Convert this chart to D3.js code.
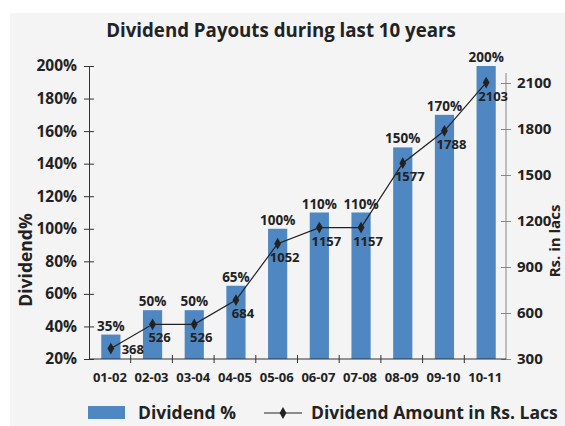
<!DOCTYPE html>
<html>
<head>
<meta charset="utf-8">
<script src="https://cdn.jsdelivr.net/npm/d3@7"></script>
<style>
  body { margin: 0; background: #fff; }
  text { font-family: "Open Sans", sans-serif; font-weight: bold; fill: #222; }
</style>
</head>
<body>
<div id="chart"></div>
<script>
// chart data
const years = ['01-02', '02-03', '03-04', '04-05', '05-06', '06-07', '07-08', '08-09', '09-10', '10-11'];
const dividendPct = [35, 50, 50, 65, 100, 110, 110, 150, 170, 200];
const dividendAmt = [368, 526, 526, 684, 1052, 1157, 1157, 1577, 1788, 2103];
const pctTicks = [20, 40, 60, 80, 100, 120, 140, 160, 180, 200];
const amtTicks = [300, 600, 900, 1200, 1500, 1800, 2100];

const w = 565, h = 426;
const svg = d3.select('#chart').append('svg')
  .attr('width', w)
  .attr('height', h);

// gray panel
svg.append('rect')
  .attr('x', 10).attr('y', 13)
  .attr('width', w - 10).attr('height', h - 13)
  .attr('fill', '#f4f4f4');

const left = 89, right = 506, bottom = 359;

const x = d3.scaleBand().domain(years).range([left, right]).padding(0);
const yL = d3.scaleLinear().domain([20, 200]).range([bottom, 66]);
const yR = d3.scaleLinear().domain([300, 2100]).range([bottom, 83]);

// title
svg.append('text')
  .attr('x', 281).attr('y', 37)
  .attr('text-anchor', 'middle')
  .style('font-size', '18.7px')
  .text('Dividend Payouts during last 10 years');

// bars
const barW = x.bandwidth() * 0.46;
const cx = i => x(years[i]) + x.bandwidth() / 2 + 1;
svg.selectAll('.bar')
  .data(dividendPct)
  .enter()
  .append('rect')
  .attr('class', 'bar')
  .attr('x', (d, i) => cx(i) - barW / 2)
  .attr('y', d => yL(d))
  .attr('width', barW)
  .attr('height', d => bottom - yL(d))
  .attr('fill', '#4f87c3');

svg.selectAll('.bar-label')
  .data(dividendPct)
  .enter()
  .append('text')
  .attr('class', 'bar-label')
  .attr('x', (d, i) => cx(i))
  .attr('y', d => yL(d) - 4)
  .attr('text-anchor', 'middle')
  .style('font-size', '13.5px')
  .text(d => d + '%');

// left axis
const axL = svg.append('g')
  .attr('transform', `translate(${left},0)`)
  .call(d3.axisLeft(yL).tickValues(pctTicks).tickFormat(d => d + '%').tickSize(5).tickPadding(7));
axL.select('.domain').attr('stroke', '#333');
axL.selectAll('.tick line').attr('x1', 5).attr('stroke', '#333');
axL.selectAll('text').style('font-size', '15.5px').attr('fill', '#222');

// right axis
const axR = svg.append('g')
  .attr('transform', `translate(${right},0)`)
  .call(d3.axisRight(yR).tickValues(amtTicks).tickFormat(d3.format('d')).tickSize(5).tickPadding(6));
axR.select('.domain').attr('d', `M0,73V${bottom}`).attr('stroke', '#888');
axR.selectAll('.tick line').attr('x1', -5).attr('stroke', '#888');
axR.selectAll('text').style('font-size', '15px').attr('fill', '#222');

// x axis
const axX = svg.append('g')
  .attr('transform', `translate(0,${bottom})`)
  .call(d3.axisBottom(x).tickSize(0).tickPadding(14));
axX.select('.domain').attr('d', `M${left},0H${right}`).attr('stroke', '#333');
axX.selectAll('text').style('font-size', '13px').attr('fill', '#222');
axX.selectAll('.sep')
  .data(years.slice(1))
  .enter()
  .append('line')
  .attr('class', 'sep')
  .attr('x1', d => x(d)).attr('x2', d => x(d))
  .attr('y1', -4).attr('y2', 4)
  .attr('stroke', '#333');

// axis titles
svg.append('text')
  .attr('transform', 'translate(32,260) rotate(-90)')
  .attr('text-anchor', 'middle')
  .style('font-size', '17.5px')
  .text('Dividend%');

svg.append('text')
  .attr('transform', 'translate(560,241) rotate(-90)')
  .attr('text-anchor', 'middle')
  .style('font-size', '15px')
  .text('Rs. in lacs');

// amount line
const line = d3.line()
  .x((d, i) => cx(i))
  .y(d => yR(d));

svg.append('path')
  .datum(dividendAmt)
  .attr('d', line)
  .attr('fill', 'none')
  .attr('stroke', '#222')
  .attr('stroke-width', 1.2);

const diamond = d3.symbol().type(d3.symbolDiamond).size(40);
svg.selectAll('.pt')
  .data(dividendAmt)
  .enter()
  .append('path')
  .attr('class', 'pt')
  .attr('d', diamond)
  .attr('transform', (d, i) => `translate(${cx(i)},${yR(d)})`)
  .attr('fill', '#222');

svg.selectAll('.amt-label')
  .data(dividendAmt)
  .enter()
  .append('text')
  .attr('class', 'amt-label')
  .attr('x', (d, i) => cx(i) + (yR(d) + 16 > bottom ? 22 : 7))
  .attr('y', d => yR(d) + 16 > bottom ? yR(d) + 5 : yR(d) + 18)
  .attr('text-anchor', 'middle')
  .style('font-size', '13px')
  .text(d => d);

// legend
svg.append('rect')
  .attr('x', 88).attr('y', 406)
  .attr('width', 37).attr('height', 13)
  .attr('fill', '#4f87c3');
svg.append('text')
  .attr('x', 138).attr('y', 418.5)
  .style('font-size', '17.5px')
  .text('Dividend %');

svg.append('line')
  .attr('x1', 264).attr('x2', 302)
  .attr('y1', 413).attr('y2', 413)
  .attr('stroke', '#222')
  .attr('stroke-width', 1.2);
svg.append('path')
  .attr('d', diamond)
  .attr('transform', 'translate(283,413)')
  .attr('fill', '#222');
svg.append('text')
  .attr('x', 311).attr('y', 418.5)
  .style('font-size', '17.5px')
  .text('Dividend Amount in Rs. Lacs');
</script>
</body>
</html>
